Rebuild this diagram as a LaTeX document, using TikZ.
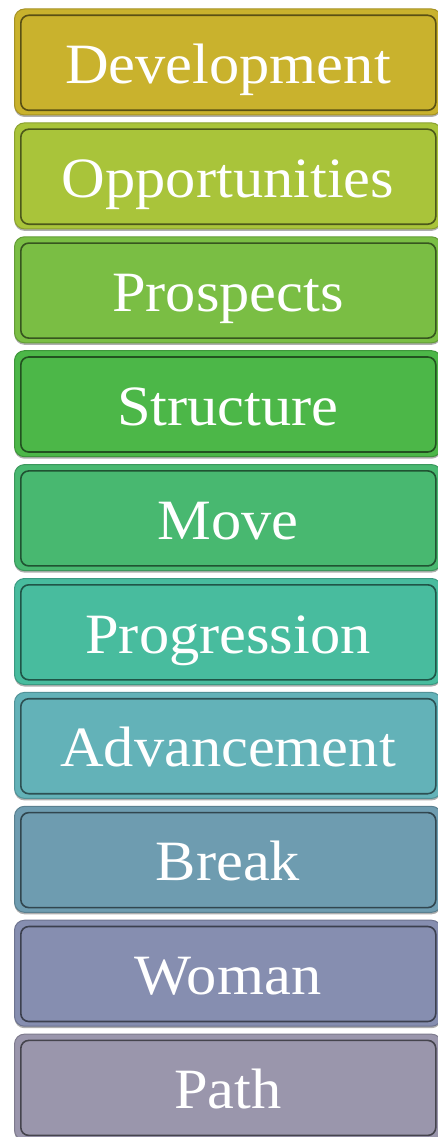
\documentclass[tikz,border=0pt]{standalone}
\usepackage{fontspec}
\setmainfont{Liberation Serif}
\usetikzlibrary{shadows}
\definecolor{c1}{HTML}{C9B22D}
\definecolor{c2}{HTML}{A9C43A}
\definecolor{c3}{HTML}{7ABE44}
\definecolor{c4}{HTML}{4CB748}
\definecolor{c5}{HTML}{48B870}
\definecolor{c6}{HTML}{48BC9E}
\definecolor{c7}{HTML}{63B2B8}
\definecolor{c8}{HTML}{6E9CB0}
\definecolor{c9}{HTML}{868EB0}
\definecolor{c10}{HTML}{9A96AC}
\newcommand\widetext[1]{\scalebox{1.06}[1]{#1}}
\begin{document}
\begin{tikzpicture}[x=1pt,y=-1pt,
  outerbox/.style={draw=#1!82!black, fill=#1, rounded corners=10pt, line width=1pt,
    minimum width=427pt, minimum height=106pt, inner sep=0pt, anchor=north west,
    drop shadow={shadow xshift=0pt, shadow yshift=-2pt, opacity=0.45, fill=black!70}},
  innerbox/.style={draw=#1!45!black, rounded corners=8pt, line width=1.6pt,
    minimum width=415pt, minimum height=95pt, inner sep=0pt, anchor=north west},
  labeltext/.style={text=white, anchor=base, inner sep=0pt,
    font=\fontsize{57}{57}\selectfont}]
\useasboundingbox (0,0) rectangle (438,1137);
\foreach \i/\word in {1/Development,2/Opportunities,3/Prospects,4/Structure,5/Move,
  6/Progression,7/Advancement,8/Break,9/Woman,10/Path}{
  \pgfmathsetmacro\top{8.5+113.9*(\i-1)}
  \node[outerbox=c\i] (o\i) at (14,\top) {};
  \node[innerbox=c\i] (n\i) at (20,\top+6) {};
  \node[labeltext] (t\i) at (228,\top+75) {\widetext{\word}};
}
\end{tikzpicture}
\end{document}
